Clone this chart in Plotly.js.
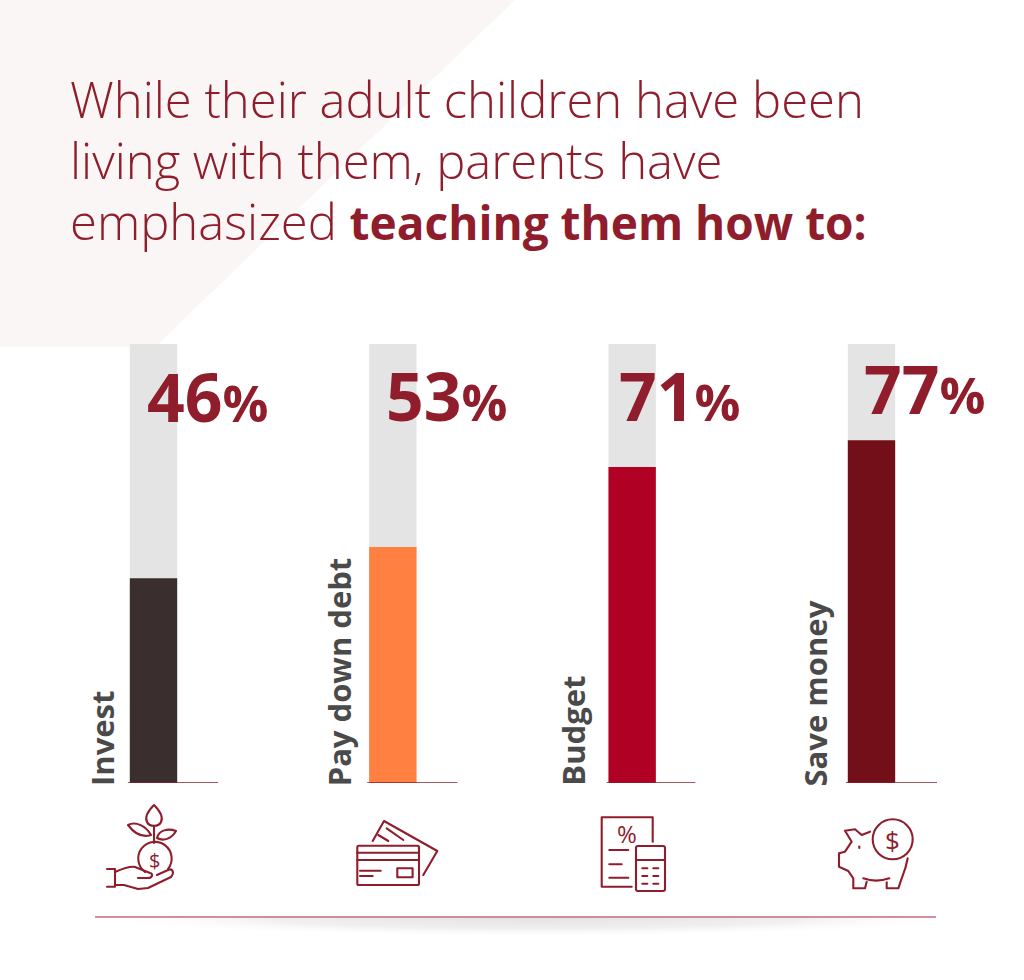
<!DOCTYPE html>
<html>
<head>
<meta charset="utf-8">
<script src="https://cdn.plot.ly/plotly-3.0.1.min.js"></script>
<style>body { margin: 0; background: #fff; }</style>
</head>
<body>
<div id="chart" style="width:1024px;height:980px"></div>
<script>
const categories = ['Invest', 'Pay down debt', 'Budget', 'Save money'];
const percentValues = [46, 53, 71, 77];
const trackValues = [100, 100, 100, 100];
const barColors = ['#3a2e2e', '#ff8040', '#b00024', '#720f18'];
const titleText = '<span style="font-size:49px">While their adult children have been</span><br>' +
  '<span style="font-size:49px">living with them, parents have</span><br>' +
  '<span style="font-size:49px">emphasized </span><b style="font-size:46px"><span style="font-size:46px">teaching them how to:</span></b>';

const W = 1024, H = 980;
const red = '#8f1d2c';
const fontName = '"Open Sans", "Noto Sans", sans-serif';
const px = x => x / W;
const py = y => 1 - y / H;
const xPositions = categories.map((_, i) => i);

// page pixels -> x axis units (bars are 239.33px apart, first centre at 153.5)
const unit = 239.33;
const xRange = [-153.5 / unit, (W - 153.5) / unit];

const tracks = {
  type: 'bar', x: xPositions, y: trackValues, width: 0.198,
  marker: { color: '#e4e4e4' }, hoverinfo: 'skip', showlegend: false
};
const bars = {
  type: 'bar', x: xPositions, y: percentValues, width: 0.198,
  marker: { color: barColors }, customdata: categories,
  hovertemplate: '%{customdata}: %{y}%<extra></extra>', showlegend: false
};

function svgUri(box, body) {
  const svg = '<svg xmlns="http://www.w3.org/2000/svg" viewBox="' + box.join(' ') + '" width="' + box[2] + '" height="' + box[3] + '">' + body + '</svg>';
  return 'data:image/svg+xml;charset=utf-8,' + encodeURIComponent(svg);
}
function icon(box, paths) {
  const body = '<g fill="none" stroke="' + red + '" stroke-width="2.1" stroke-linecap="round" stroke-linejoin="round">' + paths + '</g>';
  return {
    source: svgUri(box, body), xref: 'paper', yref: 'paper', layer: 'above',
    x: px(box[0]), y: py(box[1]), sizex: box[2] / W, sizey: box[3] / H,
    xanchor: 'left', yanchor: 'top', sizing: 'stretch'
  };
}

const plantIcon = icon([100, 800, 84, 94],
  '<path d="M154 805C147 812 145 818 147 822C149 827 159 827 161 822C163 818 161 812 154 805Z"/>' +
  '<path d="M128 825C136 821 146 826 151 835C142 838 134 833 128 825Z"/>' +
  '<path d="M157 838C159 830 168 828 176 831C172 838 164 842 157 838Z"/>' +
  '<path d="M154 826V843"/>' +
  '<path d="M145 872A16.7 16.7 0 1 1 168 869"/>' +
  '<path d="M107 869H115V886.7H107"/>' +
  '<path d="M115 872C122 869 130 866 135 867L150 873C153 873 153 878 148 878L138 878"/>' +
  '<path d="M115 885L124 885L138 889L148 888L171 877C175 872 172 868 168 870L157 875"/>');
const cardsIcon = icon([352, 816, 92, 74],
  '<rect x="357.3" y="845.7" width="61.7" height="39.3" rx="1.5"/>' +
  '<path d="M357.3 852.7H419M357.3 860H419"/>' +
  '<path d="M360 870.7H380.7M360 876H372.7"/>' +
  '<rect x="397.3" y="868.3" width="15.3" height="9"/>' +
  '<path d="M372.7 841L384 821L437.3 851L423.3 875"/>' +
  '<path d="M378.3 835L388.3 841M386.7 828.3L403.3 840"/>');
const calcIcon = icon([596, 812, 74, 84],
  '<path d="M652.7 841.7V817.3H601.7V886.7H631.7"/>' +
  '<path d="M609.3 850H628.3M609.3 864.3H621.7M609.3 877.7H628.3"/>' +
  '<rect x="636" y="846" width="29" height="45" rx="2"/>' +
  '<path d="M636 860H665"/>' +
  '<path d="M642.3 868.3H647.3M653.3 868.3H658.3M642.3 876H647.3M653.3 876H658.3M642.3 883.7H647.3M653.3 883.7H658.3"/>');
const pigIcon = icon([834, 814, 84, 80],
  '<circle cx="892.7" cy="839.3" r="20"/>' +
  '<path d="M870 831.7L861.7 835L855 829.3L845 830.7L851.7 841.7L845 851.7L839 853.3V866.7L848.3 871L853.3 878.3V888.3H865L866.7 881.7"/>' +
  '<path d="M863.3 878.3Q876 883 889.3 878.3"/>' +
  '<path d="M886.7 882.3V888.3H898.3L901.7 878.3Q906 868 907.7 858.3"/>' +
  '<path d="M859.3 846.5V848"/>');

const shadow = {
  source: svgUri([0, 0, 900, 40],
    '<defs><radialGradient id="s"><stop offset="0" stop-color="#e2e2e2"/><stop offset="0.6" stop-color="#f0f0f0"/><stop offset="1" stop-color="#ffffff" stop-opacity="0"/></radialGradient></defs>' +
    '<ellipse cx="450" cy="0" rx="450" ry="20" fill="url(#s)"/>'),
  xref: 'paper', yref: 'paper', layer: 'below',
  x: px(85), y: py(917), sizex: 900 / W, sizey: 40 / H,
  xanchor: 'left', yanchor: 'top', sizing: 'stretch'
};

// percent labels sit at their own spots, they don't follow the bar tops
const pctCenterX = [207.5, 446, 679, 924.5];
const pctCenterY = [396, 395, 395, 388];
const pctAnnotations = percentValues.map((v, i) => ({
  xref: 'paper', yref: 'paper', x: px(pctCenterX[i]), y: py(pctCenterY[i]),
  xanchor: 'center', yanchor: 'middle', showarrow: false,
  text: '<b>' + v + '<span style="font-size:51px">%</span></b>',
  font: { family: fontName, size: 66, color: red }
}));

const labelShift = [-52, -54, -59.5, -56];
const labelAnnotations = categories.map((c, i) => ({
  xref: 'x', yref: 'y', x: i, y: 0, xshift: labelShift[i], yshift: -5,
  xanchor: 'center', yanchor: 'bottom', textangle: -90, showarrow: false,
  text: c,
  font: { family: fontName, size: 31, weight: 700, color: '#4a4a4a' }
}));

const glyphs = [
  { text: '$', x: 154, y: 860, size: 20 },
  { text: '%', x: 627, y: 833, size: 24 },
  { text: '$', x: 892.7, y: 839.5, size: 26 }
].map(g => ({
  xref: 'paper', yref: 'paper', x: px(g.x), y: py(g.y), xanchor: 'center', yanchor: 'middle',
  showarrow: false, text: g.text, font: { family: fontName, size: g.size, color: red }
}));

const baselineStart = [-0.107, -0.107, -0.107, -0.107];
const baselineEnd = [0.27, 0.27, 0.264, 0.274];
const baselines = categories.map((_, i) => ({
  type: 'line', xref: 'x', yref: 'y', x0: i + baselineStart[i], x1: i + baselineEnd[i], y0: 0, y1: 0,
  line: { color: red, width: 1.3 }, layer: 'above'
}));

const layout = {
  width: W, height: H,
  margin: { l: 0, r: 0, t: 0, b: 0 },
  paper_bgcolor: '#ffffff', plot_bgcolor: 'rgba(0,0,0,0)',
  barmode: 'overlay',
  showlegend: false,
  title: {
    text: titleText, xref: 'paper', yref: 'container', x: px(70), y: py(118),
    xanchor: 'left', yanchor: 'top',
    font: { family: fontName, size: 47, weight: 300, color: red }
  },
  xaxis: { range: xRange, visible: false, fixedrange: true },
  yaxis: { range: [0, 98.6], domain: [py(783), py(344)], visible: false, fixedrange: true },
  shapes: [
    {
      type: 'path', xref: 'paper', yref: 'paper', layer: 'below', line: { width: 0 }, fillcolor: '#f9f6f5',
      path: 'M0,' + py(0) + ' L' + px(515) + ',' + py(0) + ' L' + px(155) + ',' + py(347) + ' L0,' + py(347) + ' Z'
    },
    { type: 'line', xref: 'paper', yref: 'paper', x0: px(95), x1: px(936), y0: py(917), y1: py(917), line: { color: '#c46a78', width: 1.5 } }
  ].concat(baselines),
  images: [plantIcon, cardsIcon, calcIcon, pigIcon, shadow],
  annotations: pctAnnotations.concat(labelAnnotations, glyphs)
};

Plotly.newPlot('chart', [tracks, bars], layout, { displayModeBar: false });
</script>
</body>
</html>
